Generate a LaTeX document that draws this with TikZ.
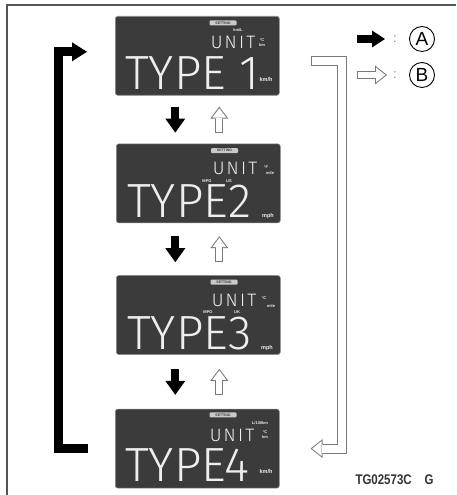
\documentclass[tikz,border=0pt]{standalone}
\usepackage{fontspec}
\setmainfont{Liberation Sans}
\newfontfamily\lcdfont{Fira Sans Light}
\newfontfamily\lcdwide[LetterSpace=12]{Fira Sans Light}
\newfontfamily\codefont[FakeStretch=0.82]{Liberation Sans}
\usepackage{xcolor}
\definecolor{lcdgray}{HTML}{3B3B3B}
\definecolor{lcdedge}{HTML}{8C8C8C}
\definecolor{segwhite}{HTML}{EEEEEE}
\definecolor{badgegray}{HTML}{C9C9C9}
\definecolor{outlinegray}{HTML}{7A7A7A}
\definecolor{framegray}{HTML}{555555}
\usetikzlibrary{positioning, arrows.meta, calc}

\begin{document}
\begin{tikzpicture}[x=1pt, y=1pt]
    \tikzstyle{lcdnode} = [minimum width=164pt, minimum height=79pt, inner sep=0pt, rounded corners=2.5pt, draw=lcdedge, line width=0.6pt, fill=lcdgray]
    \tikzstyle{bignode} = [anchor=base west, inner sep=0pt, text height=33pt, text depth=0pt, text=segwhite, font=\lcdfont\fontsize{48}{48}\selectfont]
    \tikzstyle{unitnode} = [inner sep=0pt, text height=12.5pt, text depth=0pt, text=segwhite, font=\lcdwide\fontsize{18}{18}\selectfont]
    \tikzstyle{tinynode} = [inner sep=0pt, text height=4pt, text depth=0.5pt, text=segwhite, font=\bfseries\fontsize{5.5}{5.5}\selectfont]
    \tikzstyle{micronode} = [inner sep=0pt, text height=2.9pt, text depth=0pt, text=segwhite, font=\bfseries\fontsize{4}{4}\selectfont]
    \tikzstyle{badgenode} = [minimum width=27pt, minimum height=5pt, inner sep=0pt, rounded corners=1pt, fill=badgegray, text=lcdgray, font=\bfseries\fontsize{3.5}{3.5}\selectfont]
    \tikzstyle{keycircle} = [circle, draw, line width=0.9pt, minimum size=25pt, inner sep=0pt, font=\fontsize{19}{19}\selectfont]
    \tikzstyle{colonnode} = [inner sep=0pt, text=lcdedge, font=\fontsize{13}{13}\selectfont]
    \tikzstyle{blackarrow} = [line width=8pt, -{Triangle[width=20pt, length=14pt, line width=0pt]}]
    \tikzstyle{hollowarrow} = [outlinegray, line width=8pt, -{Triangle[width=18pt, length=12pt, line width=0pt]}]
    \tikzstyle{blackloop} = [line width=9pt, line join=miter, -{Triangle[width=19pt, length=15pt, line width=0pt]}]
    \tikzstyle{hollowloop} = [outlinegray, line width=10pt, line join=miter, -{Triangle[width=19pt, length=12pt, line width=0pt]}]

    \useasboundingbox (0,0) rectangle (456,495);
    \draw[framegray, line width=1.2pt] (7,0) -- (7,490) -- (456,490);

    \node [lcdnode, anchor=north west] (disp1) at (115,479) {};
    \node [badgenode] (set1) at ([xshift=108pt,yshift=-7pt]disp1.north west) {SETTING};
    \node [micronode] (kml1) at ([xshift=123pt,yshift=-14pt]disp1.north west) {km/L};
    \node [unitnode] (unit1) at ([xshift=118pt,yshift=-26.5pt]disp1.north west) {UNIT};
    \node [micronode] (deg1) at ([xshift=147pt,yshift=-24pt]disp1.north west) {°C};
    \node [micronode] (dist1) at ([xshift=147pt,yshift=-29pt]disp1.north west) {km};
    \node [bignode] (type1) at ([xshift=10pt,yshift=-74pt]disp1.north west) {TYPE 1};
    \node [tinynode] (speed1) at ([xshift=151pt,yshift=-64pt]disp1.north west) {km/h};

    \node [lcdnode, anchor=north west] (disp2) at ([xshift=1pt,yshift=-48pt]disp1.south west) {};
    \node [badgenode] (set2) at ([xshift=108.5pt,yshift=-7pt]disp2.north west) {SETTING};
    \node [unitnode] (unit2) at ([xshift=119pt,yshift=-25pt]disp2.north west) {UNIT};
    \node [micronode] (deg2) at ([xshift=150pt,yshift=-23pt]disp2.north west) {°F};
    \node [micronode] (dist2) at ([xshift=154pt,yshift=-29pt]disp2.north west) {mile};
    \node [micronode] (mpg2) at ([xshift=91pt,yshift=-37pt]disp2.north west) {MPG};
    \node [micronode] (us2) at ([xshift=113pt,yshift=-37pt]disp2.north west) {US};
    \node [bignode] (type2) at ([xshift=11pt,yshift=-74pt]disp2.north west) {TYPE2};
    \node [tinynode] (speed2) at ([xshift=152pt,yshift=-72pt]disp2.north west) {mph};

    \node [lcdnode, anchor=north west] (disp3) at ([yshift=-52pt]disp2.south west) {};
    \node [badgenode] (set3) at ([xshift=108pt,yshift=-7pt]disp3.north west) {SETTING};
    \node [unitnode] (unit3) at ([xshift=118pt,yshift=-25pt]disp3.north west) {UNIT};
    \node [micronode] (deg3) at ([xshift=148pt,yshift=-23pt]disp3.north west) {°C};
    \node [micronode] (dist3) at ([xshift=155pt,yshift=-31pt]disp3.north west) {mile};
    \node [micronode] (mpg3) at ([xshift=92pt,yshift=-37pt]disp3.north west) {MPG};
    \node [micronode] (uk3) at ([xshift=121pt,yshift=-37pt]disp3.north west) {UK};
    \node [bignode] (type3) at ([xshift=11pt,yshift=-74pt]disp3.north west) {TYPE3};
    \node [tinynode] (speed3) at ([xshift=151pt,yshift=-73pt]disp3.north west) {mph};

    \node [lcdnode, anchor=north west] (disp4) at ([xshift=-1pt,yshift=-54pt]disp3.south west) {};
    \node [badgenode] (set4) at ([xshift=108pt,yshift=-6pt]disp4.north west) {SETTING};
    \node [micronode] (lkm4) at ([xshift=145pt,yshift=-14pt]disp4.north west) {L/100km};
    \node [unitnode] (unit4) at ([xshift=117pt,yshift=-26pt]disp4.north west) {UNIT};
    \node [micronode] (deg4) at ([xshift=150pt,yshift=-23pt]disp4.north west) {°C};
    \node [micronode] (dist4) at ([xshift=150pt,yshift=-28.5pt]disp4.north west) {km};
    \node [bignode] (type4) at ([xshift=10pt,yshift=-73pt]disp4.north west) {TYPE4};
    \node [tinynode] (speed4) at ([xshift=151pt,yshift=-63pt]disp4.north west) {km/h};

    \draw [blackarrow, shorten <=11pt, shorten >=11pt] ([xshift=-22pt]disp1.south) -- ([xshift=-22pt]disp1.south |- disp2.north);
    \draw [blackarrow, shorten <=13pt, shorten >=13pt] ([xshift=-23pt]disp2.south) -- ([xshift=-23pt]disp2.south |- disp3.north);
    \draw [blackarrow, shorten <=14pt, shorten >=14pt] ([xshift=-23pt]disp3.south) -- ([xshift=-23pt]disp3.south |- disp4.north);

    \draw [hollowarrow, shorten <=11pt, shorten >=11pt, postaction={draw=white, line width=6pt, -{Triangle[width=14pt, length=9.33pt, line width=0pt]}, shorten <=12pt, shorten >=12.67pt}] ([xshift=21pt]disp2.north) -- ([xshift=21pt]disp2.north |- disp1.south);
    \draw [hollowarrow, shorten <=13pt, shorten >=13pt, postaction={draw=white, line width=6pt, -{Triangle[width=14pt, length=9.33pt, line width=0pt]}, shorten <=14pt, shorten >=14.67pt}] ([xshift=21pt]disp3.north) -- ([xshift=21pt]disp3.north |- disp2.south);
    \draw [hollowarrow, shorten <=14pt, shorten >=14pt, postaction={draw=white, line width=6pt, -{Triangle[width=14pt, length=9.33pt, line width=0pt]}, shorten <=15pt, shorten >=15.67pt}] ([xshift=22pt]disp4.north) -- ([xshift=22pt]disp4.north |- disp3.south);

    \draw [blackloop] ([xshift=-27pt]disp4.west) -- ++(-30pt,0) |- ([xshift=-28pt,yshift=4pt]disp1.west);
    \draw [hollowloop, postaction={draw=white, line width=8pt, -{Triangle[width=14.87pt, length=9.39pt, line width=0pt]}, shorten <=1pt, shorten >=1.61pt}] ([xshift=31pt,yshift=-5.5pt]disp1.east) -- ++(31pt,0) |- ([xshift=31pt]disp4.east);

    \node [colonnode] (colA) at (395,456) {:};
    \node [keycircle] (keyA) at (422,456) {A};
    \node [colonnode] (colB) at (395,420) {:};
    \node [keycircle] (keyB) at (422,420) {B};
    \draw [line width=8pt, -{Triangle[width=17pt, length=13pt, line width=0pt]}] ([xshift=-38pt]colA.center) -- ([xshift=-10pt]colA.center);
    \draw [outlinegray, line width=8pt, -{Triangle[width=19pt, length=12pt, line width=0pt]}, postaction={draw=white, line width=6pt, -{Triangle[width=14.8pt, length=9.36pt, line width=0pt]}, shorten <=1pt, shorten >=1.64pt}] ([xshift=-38pt]colB.center) -- ([xshift=-8pt]colB.center);

    \node [anchor=base west, text=black!80, font=\codefont\bfseries\fontsize{14}{14}\selectfont] (code) at (352,10) {TG02573C\hspace{13pt}G};
\end{tikzpicture}
\end{document}
